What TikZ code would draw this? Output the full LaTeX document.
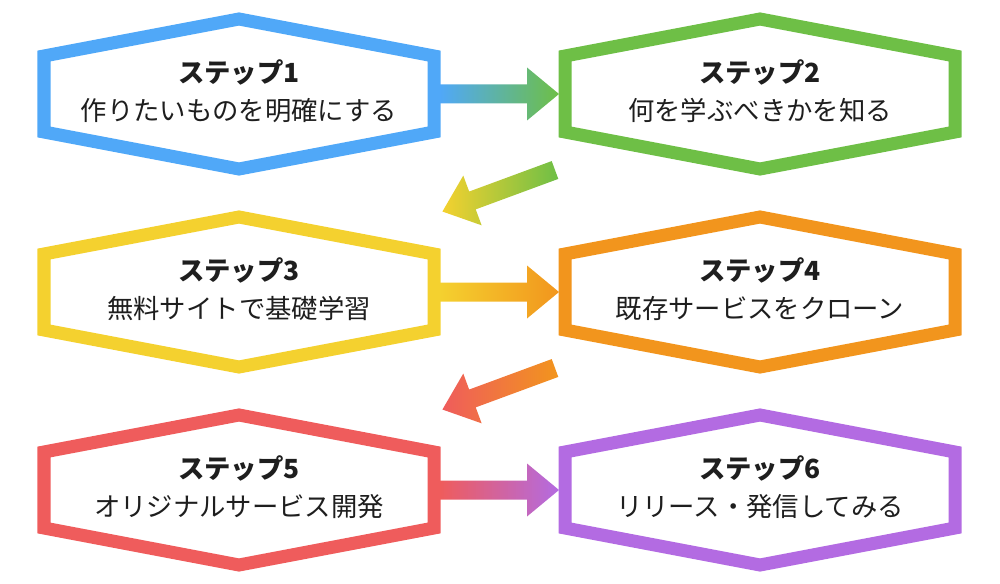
\documentclass[tikz,border=0pt]{standalone}
\usepackage{fontspec}
\setmainfont{Noto Sans CJK JP}
\usetikzlibrary{calc}
\definecolor{stepblue}{HTML}{50A8F8}
\definecolor{stepgreen}{HTML}{6EBF46}
\definecolor{stepyellow}{HTML}{F4D12F}
\definecolor{steporange}{HTML}{F2951D}
\definecolor{stepred}{HTML}{EF5C5C}
\definecolor{steppurple}{HTML}{B36BE2}
\definecolor{stepink}{HTML}{1E1E1E}
\tikzset{
  hexframe/.style={line width=7.4pt, line join=miter, fill=white},
  steptext/.style={align=center, text=stepink, inner sep=0pt,
    font=\fontsize{15}{21.6}\selectfont},
}
% one hexagon box: name, centre, colour, title, text
\newcommand{\hexstep}[5]{%
  \coordinate (#1-c) at (#2);
  \draw[hexframe, draw=#3] ($(#1-c)+(-195,-38)$) -- ++(0,76) -- ++(195,37)
    -- ++(195,-37) -- ++(0,-76) -- ++(-195,-37) -- cycle;
  \node[steptext] (#1) at ($(#1-c)+(0,-3)$) {\textbf{#4}\\#5};
  \coordinate (#1-e) at ($(#1-c)+(201,0)$);
  \coordinate (#1-w) at ($(#1-c)+(-201,0)$);
}
% block arrow: tail, angle, length, left colour, right colour
\newcommand{\steparrow}[5]{%
  \begin{scope}[shift={(#1)}, rotate=#2]
    \shade[left color=#4, right color=#5] (0,-9.5) -- (#3-32,-9.5) -- (#3-32,-26.5)
      -- (#3,0) -- (#3-32,26.5) -- (#3-32,9.5) -- (0,9.5) -- cycle;
  \end{scope}}

\begin{document}
\begin{tikzpicture}[x=0.02cm, y=-0.02cm]
  \useasboundingbox (0,0) rectangle (1000,584);
  \hexstep{s1}{239,94}{stepblue}{ステップ1}{作りたいものを明確にする}
  \hexstep{s2}{760,94}{stepgreen}{ステップ2}{何を学ぶべきかを知る}
  \hexstep{s3}{239,292}{stepyellow}{ステップ3}{無料サイトで基礎学習}
  \hexstep{s4}{760,292}{steporange}{ステップ4}{既存サービスをクローン}
  \hexstep{s5}{239,490}{stepred}{ステップ5}{オリジナルサービス開発}
  \hexstep{s6}{760,490}{steppurple}{ステップ6}{リリース・発信してみる}
  % connectors
  \coordinate (s2-d) at ($(s2-c)+(-205,76)$);
  \coordinate (s4-d) at ($(s4-c)+(-205,76)$);
  \steparrow{s1-e}{0}{119}{stepblue}{stepgreen}
  \steparrow{s2-d}{200.25}{120}{stepyellow}{stepgreen}
  \steparrow{s3-e}{0}{119}{stepyellow}{steporange}
  \steparrow{s4-d}{200.25}{120}{stepred}{steporange}
  \steparrow{s5-e}{0}{119}{stepred}{steppurple}
\end{tikzpicture}
\end{document}
